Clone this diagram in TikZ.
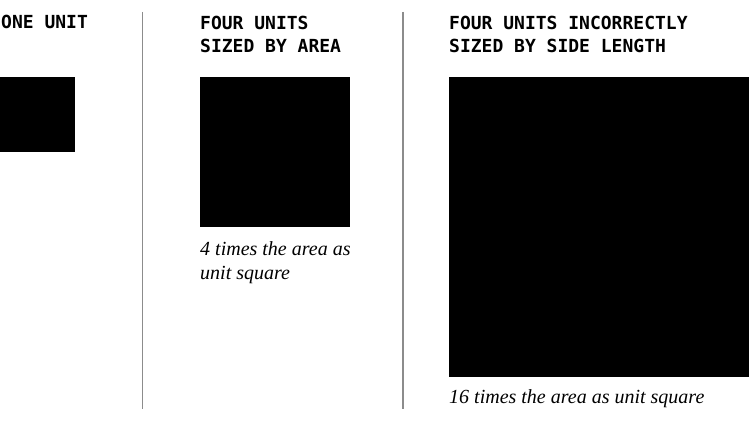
\documentclass[tikz,border=0pt]{standalone}
\usepackage{fontspec}
\newfontfamily\monofont{DejaVu Sans Mono}
\newfontfamily\notefont{Liberation Serif}
\usetikzlibrary{positioning}

\begin{document}
\begin{tikzpicture}[
  x=1pt, y=1pt,
  ttl/.style={anchor=north west, inner sep=0pt, align=left, font=\monofont\bfseries\fontsize{18}{22.5}\selectfont},
  captxt/.style={anchor=base west, inner sep=0pt, align=left, font=\notefont\itshape\fontsize{20}{24}\selectfont},
  blk/.style={anchor=north west, fill=black, inner sep=0pt, outer sep=0pt},
  divider/.style={draw=black!45, line width=1.2pt}
]
\useasboundingbox (0,0) rectangle (750,-427);

% titles
\node[ttl] (t1) at (1,-15) {ONE UNIT};
\node[ttl] (t2) at (200,-16) {FOUR UNITS\\SIZED BY AREA};
\node[ttl] (t3) at (449,-16) {FOUR UNITS INCORRECTLY\\SIZED BY SIDE LENGTH};

% squares
\node[blk, minimum size=75pt] (s1) at (0,-77) {};
\node[blk, minimum size=150pt] (s2) at (200,-77) {};
\node[blk, minimum size=300pt] (s3) at (449,-77) {};

% captions (base = last line)
\node[captxt] (c2) at (200,-279.5) {4 times the area as\\unit square};
\node[captxt] (c3) at (449,-404) {16 times the area as unit square};

% dividers
\coordinate (d1a) at (142.5,-12);
\coordinate (d1b) at (142.5,-409);
\coordinate (d2a) at (403,-12);
\coordinate (d2b) at (403,-409);
\draw[divider] (d1a) -- (d1b);
\draw[divider] (d2a) -- (d2b);

\end{tikzpicture}
\end{document}
